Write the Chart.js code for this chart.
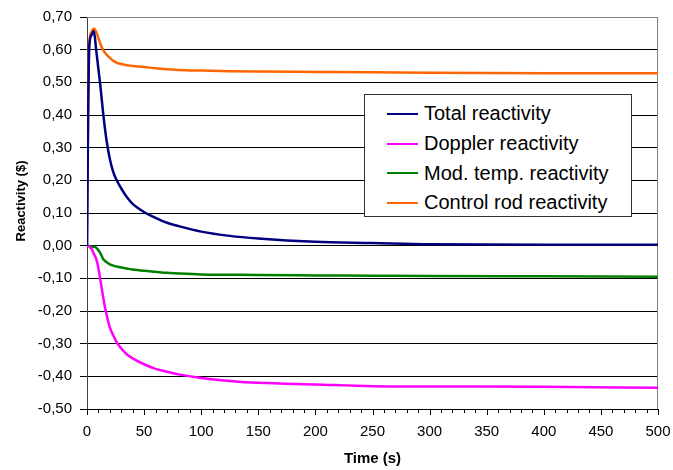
<!DOCTYPE html>
<html>
<head>
<meta charset="utf-8">
<script src="https://cdn.jsdelivr.net/npm/chart.js@4/dist/chart.umd.min.js"></script>
<style>
  html, body { margin: 0; padding: 0; background: #fff; }
  #wrap { position: relative; width: 673px; height: 470px; }
  #legend {
    position: absolute; left: 364px; top: 94px; width: 268px; height: 123px;
    border: 1px solid #333; background: #fff; box-sizing: border-box;
    padding-top: 4px; font-family: "Liberation Sans", Arial, sans-serif; font-size: 20px; color: #000;
  }
  .row { display: flex; align-items: center; height: 29.7px; }
  .swatch { width: 31px; height: 2px; margin-left: 22px; margin-right: 6px; }
</style>
</head>
<body>
<div id="wrap">
  <canvas id="c" width="673" height="470"></canvas>
  <div id="legend"></div>
</div>
<script>
// ---- data ----
const timeSeconds = [0, 1, 2, 4, 6, 8, 10, 12, 14, 17, 20, 23, 26, 30, 35, 40, 50, 60, 70, 80, 100, 125, 150, 200, 250, 300, 400, 500];

const seriesNames = ["Total reactivity", "Doppler reactivity", "Mod. temp. reactivity", "Control rod reactivity"];
const seriesColors = ["#000080", "#FF00FF", "#008000", "#FF6600"];

const totalReactivity = [0, 0.40, 0.61, 0.645, 0.657, 0.60, 0.54, 0.48, 0.41, 0.325, 0.265, 0.225, 0.20, 0.175, 0.148, 0.128, 0.103, 0.085, 0.070, 0.060, 0.043, 0.030, 0.022, 0.012, 0.008, 0.004, 0.003, 0.003];
const dopplerReactivity = [0, 0, -0.003, -0.010, -0.025, -0.040, -0.070, -0.110, -0.155, -0.210, -0.250, -0.275, -0.295, -0.315, -0.333, -0.345, -0.363, -0.377, -0.386, -0.394, -0.405, -0.414, -0.420, -0.425, -0.430, -0.431, -0.432, -0.435];
const modTempReactivity = [0, 0, -0.002, -0.003, -0.003, -0.006, -0.014, -0.025, -0.040, -0.050, -0.057, -0.061, -0.064, -0.067, -0.070, -0.073, -0.077, -0.080, -0.083, -0.085, -0.088, -0.089, -0.090, -0.091, -0.092, -0.093, -0.094, -0.095];
const controlRodReactivity = [0, 0.45, 0.62, 0.655, 0.665, 0.655, 0.635, 0.615, 0.600, 0.585, 0.575, 0.566, 0.560, 0.556, 0.552, 0.550, 0.547, 0.543, 0.540, 0.538, 0.536, 0.534, 0.533, 0.532, 0.531, 0.529, 0.528, 0.528];

const xTickMin = 0, xTickMax = 500, xMinorStep = 10, xMajorStep = 50;
const yTickMin = -0.5, yTickMax = 0.7, yStep = 0.1;
const xTitle = "Time (s)";
const yTitle = "Reactivity ($)";

const seriesValues = [totalReactivity, dopplerReactivity, modTempReactivity, controlRodReactivity];

const datasets = seriesValues.map((vals, i) => ({
  label: seriesNames[i],
  data: timeSeconds.map((t, k) => ({ x: t, y: vals[k] })),
  borderColor: seriesColors[i],
  backgroundColor: seriesColors[i],
  borderWidth: 2.5,
  pointRadius: 0,
  cubicInterpolationMode: 'monotone',
  fill: false
}));

// legend (HTML, built from the series arrays)
const legendEl = document.getElementById('legend');
seriesNames.forEach((name, i) => {
  const row = document.createElement('div'); row.className = 'row';
  const sw = document.createElement('div'); sw.className = 'swatch'; sw.style.background = seriesColors[i];
  const tx = document.createElement('span'); tx.textContent = name;
  row.appendChild(sw); row.appendChild(tx); legendEl.appendChild(row);
});

const fontFamily = '"Liberation Sans", Arial, sans-serif';

const framePlugin = {
  id: 'frame',
  beforeDatasetsDraw(chart) {
    const { ctx, chartArea: a } = chart;
    ctx.save();
    ctx.strokeStyle = '#808080';
    ctx.lineWidth = 1;
    ctx.beginPath();
    ctx.moveTo(a.left, a.top + 0.5);
    ctx.lineTo(a.right - 0.5, a.top + 0.5);
    ctx.lineTo(a.right - 0.5, a.bottom);
    ctx.stroke();
    ctx.restore();
  },
  afterDraw(chart) {
    const { ctx } = chart;
    const xs = chart.scales.x;
    ctx.save();
    // x-axis major/minor tick marks
    ctx.strokeStyle = '#000';
    ctx.lineWidth = 1;
    ctx.beginPath();
    xs.ticks.forEach(t => {
      const px = Math.round(xs.getPixelForValue(t.value)) + 0.5;
      const len = (Math.round(t.value) % xMajorStep === 0) ? 6 : 4;
      ctx.moveTo(px, xs.top);
      ctx.lineTo(px, xs.top + len);
    });
    ctx.stroke();
    // y-axis title
    ctx.translate(21, 201);
    ctx.rotate(-Math.PI / 2);
    ctx.fillStyle = '#000';
    ctx.font = 'bold 13px ' + fontFamily;
    ctx.textAlign = 'center';
    ctx.textBaseline = 'middle';
    ctx.fillText(yTitle, 0, 0);
    ctx.restore();
  }
};

const tickFont = { family: fontFamily, size: 15 };

new Chart(document.getElementById('c'), {
  type: 'line',
  data: { datasets },
  options: {
    responsive: false,
    devicePixelRatio: 1,
    animation: false,
    layout: { padding: { left: 0, right: 15, top: 13, bottom: 0 } },
    plugins: { legend: { display: false }, tooltip: { enabled: false } },
    scales: {
      x: {
        type: 'linear',
        min: xTickMin, max: xTickMax,
        afterFit(s) { s.height = 61; s.paddingLeft = 0; s.paddingRight = 0; },
        ticks: {
          stepSize: xMinorStep, autoSkip: false, maxRotation: 0, padding: 14,
          color: '#000', font: tickFont,
          callback: v => (Math.round(v) % xMajorStep === 0 ? String(Math.round(v)) : '')
        },
        grid: { drawOnChartArea: false, drawTicks: false },
        border: { display: true, color: '#000', width: 1 },
        title: { display: true, text: xTitle, color: '#000', padding: { top: 2, bottom: 2 },
          font: { family: fontFamily, size: 15, weight: 'bold' } }
      },
      y: {
        type: 'linear',
        min: yTickMin, max: yTickMax,
        afterFit(s) { s.width = 87; },
        ticks: {
          stepSize: yStep, padding: 8, color: '#000', font: tickFont,
          callback: v => {
            const r = Math.round(v * 100) / 100;
            return (Math.abs(r) < 1e-9 ? 0 : r).toFixed(2).replace('.', ',');
          }
        },
        grid: {
          drawOnChartArea: true, drawTicks: true, tickLength: 7,
          color: c => (c.tick && c.tick.value > yTickMax - 0.01 ? '#808080' : '#000'),
          tickColor: '#000', lineWidth: 1
        },
        border: { display: true, color: '#404040', width: 1 },
        title: { display: false, text: yTitle }
      }
    }
  },
  plugins: [framePlugin]
});
</script>
</body>
</html>
